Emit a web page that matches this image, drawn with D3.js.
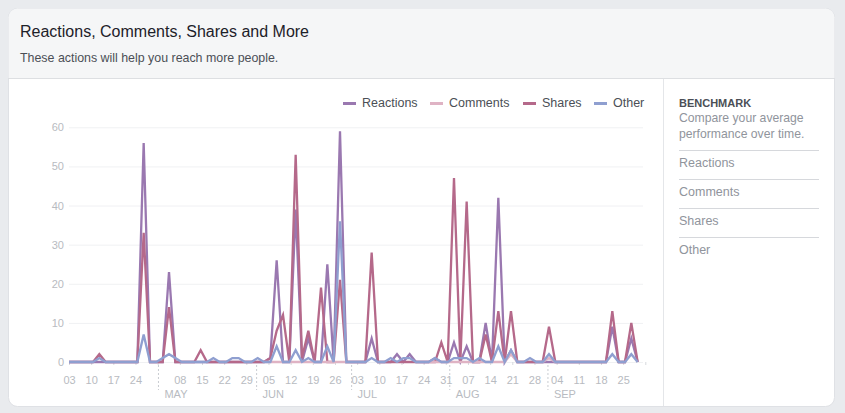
<!DOCTYPE html>
<html>
<head>
<meta charset="utf-8">
<script src="https://cdn.jsdelivr.net/npm/d3@7"></script>
<style>
  html, body { margin: 0; padding: 0; background: #e9ebee; }
  svg { display: block; font-family: "Liberation Sans", Arial, sans-serif; }
</style>
</head>
<body>
<div id="chart"></div>
<script>
const seriesNames = ["Reactions", "Comments", "Shares", "Other"];
const seriesColors = ["#9a78b0", "#dfb3c4", "#b5698a", "#8f9fd0"];

// one point every two days, first one just before the axis starts
const firstPoint = "2017-04-02T14:00:00Z";

const reactions = [
  0, 0, 0, 0, 0, 0, 0, 0, 0, 0,
  0, 0, 56, 0, 0, 0, 23, 0, 0, 0,
  0, 0, 0, 0, 0, 0, 0, 0, 0, 0,
  0, 0, 1, 26, 0, 0, 39, 0, 6, 0,
  0, 25, 0, 59, 0, 0, 0, 0, 6, 0,
  0, 0, 2, 0, 2, 0, 0, 0, 1, 0,
  0, 5, 0, 4, 0, 0, 10, 0, 42, 0,
  3, 0, 0, 0, 0, 0, 0, 0, 0, 0,
  0, 0, 0, 0, 0, 0, 9, 0, 0, 6,
  0
];
const comments = [
  null, null, null, null, null, null, null, null, null, null,
  null, null, null, null, null, null, null, null, null, null,
  null, null, null, null, null, null, null, null, null, null,
  null, 0, 0, 0, 0, 0, 0, 0, 0, 0,
  0, 0, 0, 0, 0, null, null, null, 1, null,
  null, null, null, null, null, null, null, 0, 0, 0,
  0, 0, 0, 0, 0, 0, 0, 0, 0, 0,
  2, 0, null, null, null, 0, 1, 0, null, null,
  null, null, null, null, null, null, null, null, null, null,
  null
];
const shares = [
  0, 0, 0, 0, 0, 2, 0, 0, 0, 0,
  0, 0, 33, 0, 0, 0, 14, 0, 0, 0,
  0, 3, 0, 0, 0, 0, 0, 0, 0, 0,
  0, 0, 1, 8, 12, 0, 53, 1, 8, 0,
  19, 0, 0, 21, 0, 0, 0, 0, 28, 0,
  0, 0, 0, 0, 0, 0, 0, 0, 0, 5,
  0, 47, 0, 41, 0, 0, 7, 0, 13, 0,
  13, 0, 0, 0, 0, 0, 9, 0, 0, 0,
  0, 0, 0, 0, 0, 0, 13, 0, 0, 10,
  0
];
const other = [
  0, 0, 0, 0, 0, 1, 0, 0, 0, 0,
  0, 0, 7, 0, 0, 1, 2, 1, 0, 0,
  0, 0, 0, 1, 0, 0, 1, 1, 0, 0,
  1, 0, 0, 4, 0, 0, 3, 0, 1, 0,
  0, 4, 0, 36, 0, 0, 0, 0, 1, 0,
  0, 1, 0, 1, 1, 0, 0, 0, 1, 0,
  0, 1, 1, 1, 0, 1, 0, 0, 4, 0,
  3, 0, 0, 1, 0, 0, 2, 0, 0, 0,
  0, 0, 0, 0, 0, 0, 2, 0, 0, 2,
  0
];

const yTicks = [0, 10, 20, 30, 40, 50, 60];
const weekTicks = [
  "2017-04-03", "2017-04-10", "2017-04-17", "2017-04-24", "2017-05-01", "2017-05-08",
  "2017-05-15", "2017-05-22", "2017-05-29", "2017-06-05", "2017-06-12", "2017-06-19",
  "2017-06-26", "2017-07-03", "2017-07-10", "2017-07-17", "2017-07-24", "2017-07-31",
  "2017-08-07", "2017-08-14", "2017-08-21", "2017-08-28", "2017-09-04", "2017-09-11",
  "2017-09-18", "2017-09-25", "2017-10-02"
];
const noLabelTicks = ["2017-05-01", "2017-10-02"];
const monthStarts = ["2017-05-01", "2017-06-01", "2017-07-01", "2017-08-01", "2017-09-01"];
const benchmarkText = ["Compare your average", "performance over time."];

const width = 845;
const height = 413;
const axisTextColor = "#b8bbc1";

const svg = d3.select("#chart").append("svg")
  .attr("width", width)
  .attr("height", height);

// card
svg.append("rect").attr("x", 8.5).attr("y", 8.5).attr("width", 826).attr("height", 398)
  .attr("rx", 9).attr("fill", "#fff").attr("stroke", "#dfe1e5");
svg.append("path")
  .attr("d", "M8.5,78V17.5a9,9 0 0 1 9,-9H825.5a9,9 0 0 1 9,9V78Z")
  .attr("fill", "#f5f6f7");
svg.append("line").attr("x1", 8).attr("x2", 835).attr("y1", 78.5).attr("y2", 78.5).attr("stroke", "#dddfe2");
svg.append("line").attr("x1", 663.5).attr("x2", 663.5).attr("y1", 79).attr("y2", 406).attr("stroke", "#e4e6e9");

svg.append("text").attr("x", 20).attr("y", 37).attr("font-size", 16).attr("fill", "#1d2129")
  .text("Reactions, Comments, Shares and More");
svg.append("text").attr("x", 20).attr("y", 62).attr("font-size", 12.4).attr("fill", "#4b4f56")
  .text("These actions will help you reach more people.");

// scales
const x = d3.scaleUtc()
  .domain([new Date("2017-04-03"), new Date("2017-10-02")])
  .range([69, 645.3])
  .clamp(true);
const y = d3.scaleLinear().domain([0, 60]).range([362, 127.3]);

const dates = reactions.map((_, i) => d3.utcDay.offset(new Date(firstPoint), i * 2));

// y axis with gridlines
const yAxis = svg.append("g")
  .attr("transform", "translate(69,0)")
  .call(d3.axisLeft(y).tickValues(yTicks).tickSize(-574).tickPadding(5));
yAxis.select(".domain").remove();
yAxis.selectAll("line").attr("stroke", "#f0f1f3");
yAxis.selectAll("text").attr("fill", axisTextColor).attr("font-size", 11).attr("font-family", "inherit");

// x axis, weekly ticks
const xAxis = svg.append("g")
  .attr("transform", "translate(0,362)")
  .call(d3.axisBottom(x)
    .tickValues(weekTicks.map(d => new Date(d)))
    .tickSize(3)
    .tickPadding(11)
    .tickFormat(d => noLabelTicks.includes(d3.utcFormat("%Y-%m-%d")(d)) ? "" : d3.utcFormat("%d")(d)));
xAxis.select(".domain").remove();
xAxis.selectAll("line").attr("stroke", "#d6d9dd");
xAxis.selectAll("text").attr("fill", axisTextColor).attr("font-size", 11).attr("font-family", "inherit");

// month separators
const months = svg.append("g").selectAll("g").data(monthStarts).enter().append("g")
  .attr("transform", d => `translate(${x(new Date(d)) + 0.8},0)`);
months.append("line")
  .attr("y1", 365).attr("y2", 390)
  .attr("stroke", "#c9ccd1").attr("stroke-dasharray", "2,2");
months.append("text")
  .attr("x", 6).attr("y", 398)
  .attr("font-size", 11).attr("fill", axisTextColor)
  .text(d => d3.utcFormat("%b")(new Date(d)).toUpperCase());

// lines, comments goes over shares
const line = d3.line()
  .defined(d => d.v !== null)
  .x(d => x(d.date))
  .y(d => y(d.v));
const drawOrder = [
  { values: reactions, color: seriesColors[0] },
  { values: shares, color: seriesColors[2] },
  { values: comments, color: seriesColors[1] },
  { values: other, color: seriesColors[3] }
];
svg.append("g").selectAll("path").data(drawOrder).enter().append("path")
  .attr("fill", "none")
  .attr("stroke", d => d.color)
  .attr("stroke-width", 2.3)
  .attr("d", d => line(d.values.map((v, i) => ({ date: dates[i], v: v }))));

// legend
const legendSwatch = [343, 430, 523, 594];
const legend = svg.append("g").selectAll("g").data(seriesNames).enter().append("g")
  .attr("transform", (d, i) => `translate(${legendSwatch[i]},0)`);
legend.append("line")
  .attr("x1", 0).attr("x2", 13).attr("y1", 103.5).attr("y2", 103.5)
  .attr("stroke", (d, i) => seriesColors[i]).attr("stroke-width", 3);
legend.append("text")
  .attr("x", 19).attr("y", 107)
  .attr("font-size", 12.5).attr("fill", "#4b4f56")
  .text(d => d);

// benchmark panel
svg.append("text").attr("x", 679).attr("y", 107)
  .attr("font-size", 11).attr("font-weight", "bold").attr("fill", "#4b4f56")
  .text("BENCHMARK");
svg.append("g").selectAll("text").data(benchmarkText).enter().append("text")
  .attr("x", 679).attr("y", (d, i) => 122 + i * 16)
  .attr("font-size", 12.2).attr("fill", "#90949c")
  .text(d => d);
const bench = svg.append("g").selectAll("g").data(seriesNames).enter().append("g")
  .attr("transform", (d, i) => `translate(679,${150 + i * 29})`);
bench.append("line").attr("x1", 0).attr("x2", 140).attr("y1", 0.5).attr("y2", 0.5).attr("stroke", "#d6d8dc");
bench.append("text").attr("y", 17).attr("font-size", 12.5).attr("fill", "#90949c").text(d => d);
</script>
</body>
</html>
